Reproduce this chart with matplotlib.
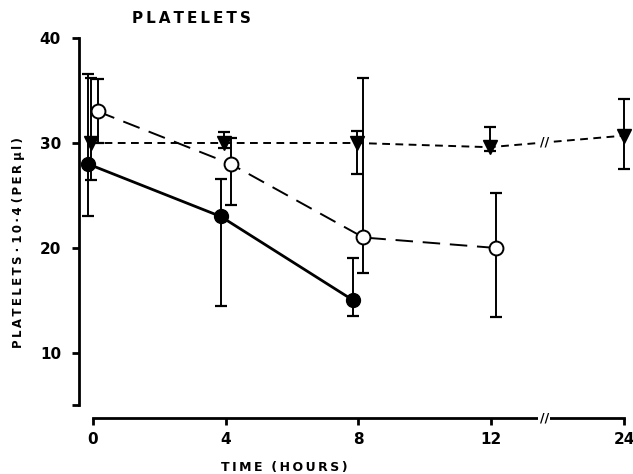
import matplotlib
matplotlib.use("Agg")
import matplotlib.pyplot as plt

# datos (tiempo en horas, plaquetas x10^4 por ul)
t_llenos = [0, 4, 8]
v_llenos = [28, 23, 15]
inf_llenos = [23, 14.5, 13.5]
sup_llenos = [36.6, 26.6, 19]

t_vacios = [0, 4, 8, 12]
v_vacios = [33, 28, 21, 20]
inf_vacios = [30, 24.1, 17.6, 13.4]
sup_vacios = [36.1, 30.5, 36.2, 25.2]

t_triang = [0, 4, 8, 12, 24]
v_triang = [30, 30, 30, 29.6, 30.7]
inf_triang = [26.5, 29.5, 27.0, 29.2, 27.5]
sup_triang = [36.2, 31.0, 31.1, 31.5, 34.2]

ticks_x = [0, 4, 8, 12, 24]
ticks_y = [10, 20, 30, 40]


def pos(t):
    # eje roto: 24 h se dibuja donde iria 16
    return t if t <= 12 else 16


def barras(t, v, inf, sup, desplaz):
    x = [pos(a) + desplaz for a in t]
    err = [[a - b for a, b in zip(v, inf)], [b - a for a, b in zip(v, sup)]]
    return x, err


def espaciar(texto):
    # separa las letras con espacios finos
    return ' '.join('\u2009'.join(p) for p in texto.split(' '))


fig = plt.figure(figsize=(6.33, 4.74), dpi=100)
ax = fig.add_axes([0.1207, 0.1113, 0.8755, 0.8307])

# triangulos (linea de guiones cortos)
x, err = barras(t_triang, v_triang, inf_triang, sup_triang, -0.05)
x[-1] = pos(24)
ax.errorbar(x, v_triang, yerr=err, fmt='none', ecolor='black', elinewidth=1.4,
            capsize=4, capthick=1.6, zorder=2)
ax.plot(x, v_triang, color='black', lw=1.4, ls=(0, (4, 2.8)), zorder=3)
ax.plot(x, v_triang, 'v', color='black', ms=10, zorder=4)

# circulos vacios (guiones largos)
x, err = barras(t_vacios, v_vacios, inf_vacios, sup_vacios, 0.15)
ax.errorbar(x, v_vacios, yerr=err, fmt='none', ecolor='black', elinewidth=1.4,
            capsize=4, capthick=1.6, zorder=2)
ax.plot(x, v_vacios, color='black', lw=1.4, ls=(0, (9, 5)), zorder=3)
ax.plot(x, v_vacios, 'o', mfc='white', mec='black', mew=1.4, ms=10, zorder=4)

# circulos llenos (linea continua)
x, err = barras(t_llenos, v_llenos, inf_llenos, sup_llenos, -0.15)
ax.errorbar(x, v_llenos, yerr=err, fmt='none', ecolor='black', elinewidth=1.4,
            capsize=4, capthick=1.6, zorder=2)
ax.plot(x, v_llenos, '-o', color='black', lw=2, ms=10, zorder=4)

# marcas de corte
ax.text(13.6, 30.05, '//', ha='center', va='center', fontsize=9, fontweight='bold',
        bbox=dict(fc='white', ec='none', pad=0.5), zorder=5)
ax.text(13.6, 3.8, '//', ha='center', va='center', fontsize=9, fontweight='bold',
        bbox=dict(fc='white', ec='none', pad=1), zorder=5, clip_on=False)

ax.set_xlim(-0.5, 16.2)
ax.set_ylim(3.5, 41)
for s in ['top', 'right']:
    ax.spines[s].set_visible(False)
ax.spines['left'].set_position(('data', -0.42))
ax.spines['bottom'].set_position(('data', 3.8))
ax.spines['left'].set_bounds(5, 40)
ax.spines['bottom'].set_bounds(0, 16)
ax.spines['left'].set_linewidth(2)
ax.spines['bottom'].set_linewidth(2)

ax.set_xticks([pos(t) for t in ticks_x])
ax.set_xticklabels([str(t) for t in ticks_x], fontsize=11, fontweight='bold')
ax.set_yticks(ticks_y)
ax.set_yticklabels([str(v) for v in ticks_y], fontsize=11, fontweight='bold')
ax.set_yticks([5], minor=True)
ax.tick_params(axis='both', width=2, length=5, pad=5)
ax.tick_params(axis='y', which='minor', width=2, length=5)
ax.tick_params(axis='y', pad=8)

ax.set_xlabel(espaciar('TIME  (HOURS)'), fontsize=9, fontweight='bold')
ax.xaxis.set_label_coords(0.376, -0.102)
ax.set_ylabel(espaciar('PLATELETS · 10·4 (PER µl)'), fontsize=8.5, fontweight='bold')
ax.yaxis.set_label_coords(-0.093, 0.453)

fig.text(0.303, 0.962, espaciar('PLATELETS'), fontsize=11, fontweight='bold',
         ha='center', va='center')

fig.savefig('out.png', dpi=100)
